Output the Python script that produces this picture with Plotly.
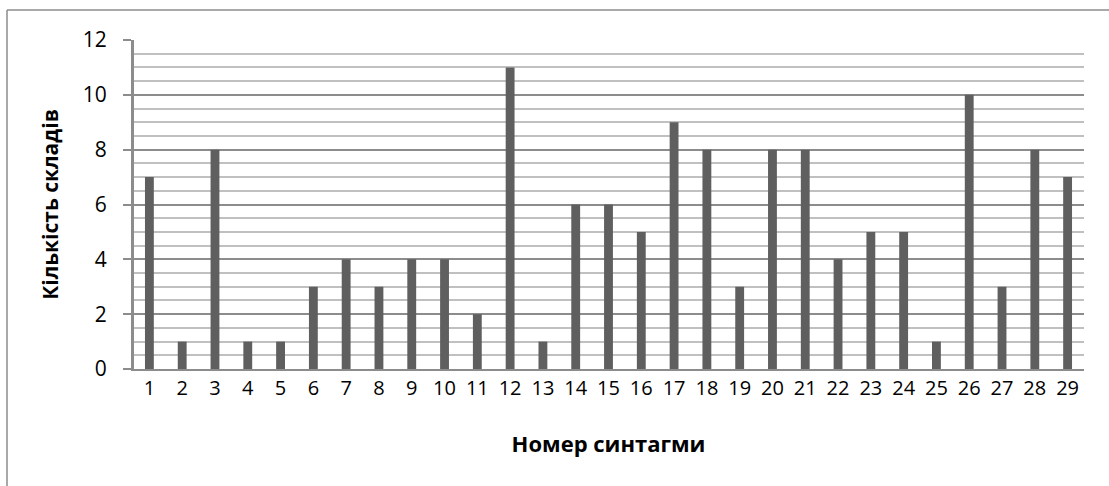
import plotly.graph_objects as go

categories = [str(i) for i in range(1, 30)]
values = [7, 1, 8, 1, 1, 3, 4, 3, 4, 4, 2, 11, 1, 6, 6, 5, 9, 8, 3, 8, 8, 4, 5, 5, 1, 10, 3, 8, 7]
y_ticks = [0, 2, 4, 6, 8, 10, 12]

fig = go.Figure(go.Bar(x=categories, y=values, marker=dict(color="#5f5f5f", line=dict(width=0)), width=0.27))

fig.update_layout(
    width=1109, height=486,
    margin=dict(l=133, r=25, t=40, b=117),
    paper_bgcolor="white", plot_bgcolor="white",
    showlegend=False,
    font=dict(family="Open Sans, Liberation Sans, sans-serif", color="black"),
    bargap=0.73,
)
fig.update_xaxes(
    type="category", showgrid=False, showline=True, linecolor="#8c8c8c", linewidth=2,
    ticks="", tickfont=dict(size=20),
    title=dict(text="<b>Номер синтагми</b>", font=dict(size=22), standoff=37),
)
fig.update_yaxes(
    range=[0, 12], tickvals=y_ticks, showgrid=True, gridcolor="#8c8c8c", gridwidth=1.5,
    minor=dict(dtick=0.5, showgrid=True, gridcolor="#c0c0c0", gridwidth=1.5),
    showline=True, linecolor="#8c8c8c", linewidth=2,
    ticks="outside", ticklen=8, tickcolor="#8c8c8c", tickwidth=1.5,
    tickfont=dict(size=21), zeroline=False, ticklabelstandoff=12,
    title=dict(text="<b>Кількість складів</b>", font=dict(size=21), standoff=18),
)
# y axis line (ensure visible)
fig.add_shape(type="line", xref="paper", yref="paper", x0=0, x1=0, y0=0, y1=1,
              line=dict(color="#8c8c8c", width=2))
# outer chart frame (partially visible)
fig.add_shape(type="line", xref="paper", yref="paper", x0=-0.1325, x1=1.2, y0=1.0912, y1=1.0912,
              line=dict(color="#8c8c8c", width=1.5))
fig.add_shape(type="line", xref="paper", yref="paper", x0=-0.1325, x1=-0.1325, y0=1.0912, y1=-0.4,
              line=dict(color="#8c8c8c", width=1.5))

fig.write_html("out.html", config={"displayModeBar": False},
               post_script="document.body.style.margin='0px';")
